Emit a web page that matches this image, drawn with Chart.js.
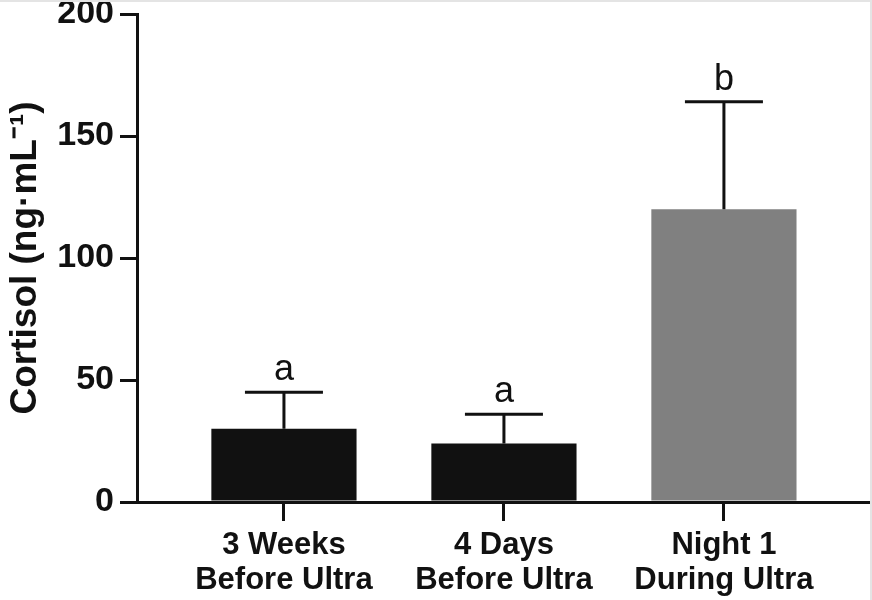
<!DOCTYPE html>
<html>
<head>
<meta charset="utf-8">
<script src="https://cdn.jsdelivr.net/npm/chart.js@4/dist/chart.umd.min.js"></script>
<style>
  html, body { margin: 0; padding: 0; background: #fff; }
  #wrap { width: 872px; height: 600px; position: relative; box-sizing: border-box; border-top: 2px solid #e4e4e4; border-right: 2px solid #e4e4e4; }
</style>
</head>
<body>
<div id="wrap"><canvas id="cortisolChart"></canvas></div>
<script>
const categories = [["3 Weeks", "Before Ultra"], ["4 Days", "Before Ultra"], ["Night 1", "During Ultra"]];
const meanCortisol = [30, 24, 120];
const errorTop = [45, 36, 164];
const groupLetters = ["a", "a", "b"];
const barColors = ["#111111", "#111111", "#808080"];
const yTicks = [0, 50, 100, 150, 200];

const FONT = "'Liberation Sans', Arial, Helvetica, sans-serif";

const errorBars = {
  id: "errorBars",
  afterDatasetsDraw(chart) {
    const { ctx, scales: { x, y } } = chart;
    ctx.save();
    ctx.strokeStyle = "#111";
    ctx.lineWidth = 3;
    ctx.fillStyle = "#111";
    ctx.font = "36px " + FONT;
    ctx.textAlign = "center";
    ctx.textBaseline = "alphabetic";
    meanCortisol.forEach((m, i) => {
      const px = x.getPixelForValue(i + 1);
      const yTop = y.getPixelForValue(errorTop[i]);
      const yBar = y.getPixelForValue(m);
      ctx.beginPath();
      ctx.moveTo(px, yBar);
      ctx.lineTo(px, yTop);
      ctx.moveTo(px - 39, yTop);
      ctx.lineTo(px + 39, yTop);
      ctx.stroke();
      ctx.fillText(groupLetters[i], px, yTop - 12);
    });
    ctx.restore();
  }
};

new Chart(document.getElementById("cortisolChart"), {
  type: "bar",
  data: {
    datasets: [{
      data: meanCortisol.map((v, i) => ({ x: i + 1, y: v })),
      backgroundColor: barColors,
      borderWidth: 0,
      categoryPercentage: 1,
      barPercentage: 0.66
    }]
  },
  options: {
    responsive: true,
    maintainAspectRatio: false,
    animation: false,
    layout: { padding: { top: 12, right: 0, left: 0, bottom: 0 } },
    plugins: { legend: { display: false }, tooltip: { enabled: false } },
    scales: {
      x: {
        type: "linear",
        min: 0.332,
        max: 3.664,
        offset: false,
        afterBuildTicks: s => { s.ticks = categories.map((c, i) => ({ value: i + 1 })); },
        afterFit: s => { s.height = 98; s.paddingLeft = 0; s.paddingRight = 0; },
        border: { display: true, color: "#111", width: 3 },
        grid: { offset: false, drawOnChartArea: false, color: "#111", lineWidth: 3, tickLength: 19 },
        ticks: {
          color: "#111",
          padding: 6,
          maxRotation: 0,
          autoSkip: false,
          font: { family: FONT, size: 31, weight: "bold", lineHeight: 1.16 },
          callback: v => categories[v - 1] || ""
        }
      },
      y: {
        min: 0,
        max: 200,
        afterBuildTicks: s => { s.ticks = yTicks.map(v => ({ value: v })); },
        afterFit: s => { s.width = 137; s.paddingTop = 0; s.paddingBottom = 0; },
        border: { display: true, color: "#111", width: 3 },
        grid: { drawOnChartArea: false, color: "#111", lineWidth: 3, tickLength: 17 },
        ticks: {
          color: "#111",
          padding: 6,
          font: { family: FONT, size: 34, weight: "bold" }
        },
        title: {
          display: true,
          text: "Cortisol (ng·mL⁻¹)",
          color: "#111",
          padding: { top: 4, bottom: 0 },
          font: { family: FONT, size: 37, weight: "bold" }
        }
      }
    }
  },
  plugins: [errorBars]
});
</script>
</body>
</html>
